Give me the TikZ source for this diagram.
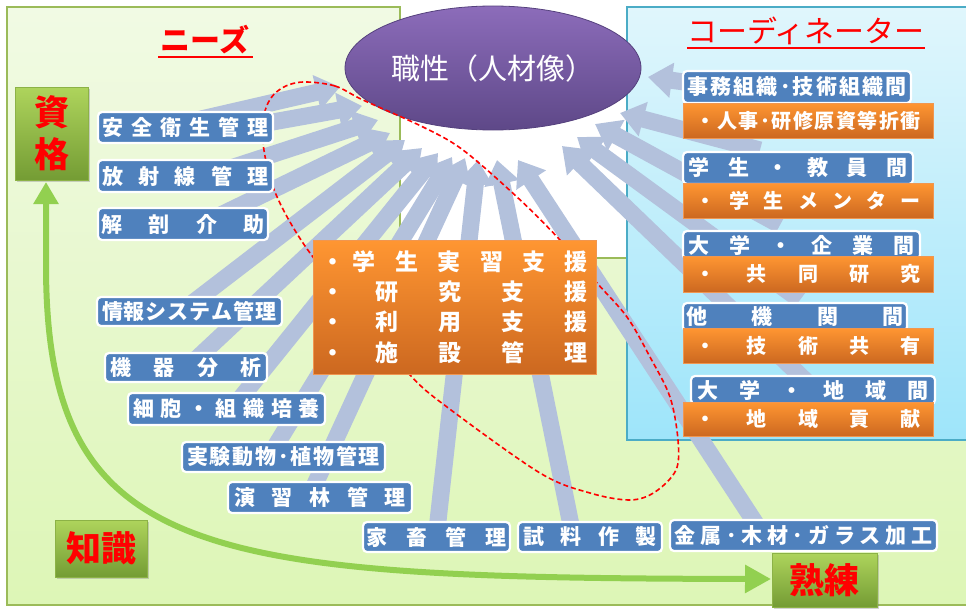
\documentclass[tikz,border=0pt]{standalone}
\usepackage{fontspec}
\setmainfont{Noto Sans CJK JP}
\usetikzlibrary{arrows.meta,shapes.geometric,shadows}
\definecolor{lblblue}{RGB}{79,129,189}
\definecolor{arrowblue}{RGB}{179,193,220}
\definecolor{orgtop}{RGB}{255,150,50}
\definecolor{orgbot}{RGB}{204,104,32}
\definecolor{orgline}{RGB}{240,150,80}
\definecolor{gtop}{RGB}{174,212,92}
\definecolor{gbot}{RGB}{116,156,52}
\definecolor{gline}{RGB}{140,178,70}
\definecolor{paneltop}{RGB}{241,250,228}
\definecolor{panelbot}{RGB}{221,246,182}
\definecolor{panelline}{RGB}{155,187,89}
\definecolor{bluetop}{RGB}{224,246,252}
\definecolor{bluebot}{RGB}{158,229,250}
\definecolor{blueline}{RGB}{75,172,198}
\definecolor{purtop}{RGB}{140,108,186}
\definecolor{purbot}{RGB}{94,72,136}
\definecolor{purline}{RGB}{85,65,125}
\definecolor{curvegreen}{RGB}{146,208,80}
\newcommand{\fs}[1]{\fontsize{#1}{#1}\selectfont}
\newcommand{\spr}[2]{\hbox to #1pt{\spaceskip=0pt plus 1fil\relax #2}}
\begin{document}
\begin{tikzpicture}[x=1pt,y=-1pt,
  lbl/.style={draw=white, line width=2.2pt, fill=lblblue, rounded corners=4pt, text=white, font=\bfseries\fs{21}, inner sep=0pt},
  org/.style={draw=orgline, line width=0.8pt, top color=orgtop, bottom color=orgbot, text=white, font=\bfseries\fs{20}, inner sep=0pt},
  gbox/.style={draw=gline, line width=0.8pt, top color=gtop, bottom color=gbot, text=red, font=\bfseries\fs{35}, inner sep=0pt, drop shadow={shadow xshift=2pt, shadow yshift=-2pt, opacity=0.35}},
  fatarrow/.style={draw=arrowblue, line width=17pt, -{Triangle[length=24pt,width=34pt]}},
  title/.style={text=red, inner sep=0pt},
  uline/.style={red, line width=2.5pt}
]
\useasboundingbox (0,0) rectangle (966,610);
% panels
\shade[top color=paneltop, bottom color=panelbot] (7,7) -- (400,7) -- (400,258) -- (975,258) -- (975,605) -- (7,605) -- cycle;
\draw[panelline, line width=2.5pt] (7,7) -- (400,7) -- (400,258) -- (975,258) -- (975,605) -- (7,605) -- cycle;
\shade[top color=bluetop, bottom color=bluebot] (627,7) rectangle (975,440);
\draw[blueline, line width=2.5pt] (975,7) -- (627,7) -- (627,440) -- (975,440);
% fat arrows
\foreach \sx/\sy/\ex/\ey [count=\i] in {
  175/125/340/87, 200/135/362/106, 200/178/378/120, 200/225/390/133,
  190/305/405/140, 190/365/422/148, 235/405/438/153, 270/455/452/157,
  310/495/465/158, 437/530/478/160, 572/530/497/160, 760/530/518/160,
  720/87/648/77, 760/150/620/113, 780/225/595/124, 800/300/577/137, 810/385/562/146}
{
  \coordinate (as\i) at (\sx,\sy);
  \coordinate (ae\i) at (\ex,\ey);
  \draw[fatarrow] (as\i) -- (ae\i);
}
% core ellipse
\node[ellipse, draw=purline, line width=0.8pt, top color=purtop, bottom color=purbot, minimum width=296pt, minimum height=124pt, inner sep=0pt, text=white, font=\fs{29}] (core) at (493,68) {職性（人材像）};
% dashed closed curve
\draw[red, line width=1.6pt, dash pattern=on 5pt off 3pt] plot[smooth cycle, tension=0.55] coordinates {
  (303,82) (335,86) (363,100) (423,127) (463,150) (517,197) (560,240) (597,283) (627,317) (650,357) (670,397) (678,440) (676,470) (655,492) (630,500) (590,493) (540,473) (447,407) (410,375) (355,310) (303,243) (273,187) (262,133) (268,103) (282,88)};
% titles
\node[title, font=\bfseries\fs{30}] (needs) at (205,40) {ニーズ};
\draw[uline] (158,57) -- (253,57);
\node[title, font=\fs{30}] (coord) at (806,31) {コーディネーター};
\draw[uline] (687,48) -- (925,48);
% left labels
\node[lbl, minimum width=175pt, minimum height=31pt] (n1) at (185.5,127.5) {\spr{166}{安 全 衛 生 管 理}};
\node[lbl, minimum width=175pt, minimum height=32pt] (n2) at (185.5,176) {\spr{166}{放 射 線 管 理}};
\node[lbl, minimum width=170pt, minimum height=32pt] (n3) at (183,224) {\spr{163}{解 剖 介 助}};
\node[lbl, minimum width=185pt, minimum height=29pt] (n4) at (189.5,311.5) {\spr{175}{情 報 シ ス テ ム 管 理}};
\node[lbl, minimum width=162pt, minimum height=29pt] (n5) at (186,367.5) {\spr{152}{機 器 分 析}};
\node[lbl, minimum width=197pt, minimum height=32pt] (n6) at (226.5,409) {\spr{187}{細 胞 ・ 組 織 培 養}};
\node[lbl, minimum width=203pt, minimum height=30pt] (n7) at (283.5,457) {\spr{193}{実 験 動 物 ･ 植 物 管 理}};
\node[lbl, minimum width=184pt, minimum height=31pt] (n8) at (320,497.5) {\spr{172}{演 習 林 管 理}};
\node[lbl, minimum width=147pt, minimum height=30pt] (n9) at (436.5,537) {\spr{140}{家 畜 管 理}};
\node[lbl, minimum width=144pt, minimum height=30pt] (n10) at (590,537) {\spr{134}{試 料 作 製}};
\node[lbl, minimum width=267pt, minimum height=31pt] (n11) at (803.5,535.5) {\spr{258}{金 属 ･ 木 材 ･ ガ ラ ス 加 工}};
% right labels
\node[lbl, minimum width=228pt, minimum height=32pt] (c1) at (797,87) {\spr{219}{事 務 組 織 ･ 技 術 組 織 間}};
\node[org, minimum width=250pt, minimum height=35pt] (d1) at (808,120.5) {\spr{225}{・ 人 事 ･ 研 修 原 資 等 折 衝}};
\node[lbl, minimum width=230pt, minimum height=32pt] (c2) at (798,168) {\spr{219}{学 生 ・ 教 員 間}};
\node[org, minimum width=250pt, minimum height=35pt] (d2) at (808,200.5) {\spr{225}{・ 学 生 メ ン タ ー}};
\node[lbl, minimum width=237pt, minimum height=28pt] (c3) at (801.5,245) {\spr{227}{大 学 ・ 企 業 間}};
\node[org, minimum width=250pt, minimum height=36pt] (d3) at (808,274) {\spr{225}{・ 共 同 研 究}};
\node[lbl, minimum width=224pt, minimum height=28pt] (c4) at (795,317) {\spr{217}{他 機 関 間}};
\node[org, minimum width=250pt, minimum height=35pt] (d4) at (808,345.5) {\spr{225}{・ 技 術 共 有}};
\node[lbl, minimum width=244pt, minimum height=28pt] (c5) at (813,390) {\spr{232}{大 学 ・ 地 域 間}};
\node[org, minimum width=250pt, minimum height=34pt] (d5) at (808,419) {\spr{225}{・ 地 域 貢 献}};
% center orange box
\node[org, minimum width=283pt, minimum height=134pt, font=\bfseries\fs{23}] (center) at (454.5,307) {%
  \parbox{267pt}{\baselineskip=30.3pt
  \hbox to 267pt{・\hfill\spr{235}{学 生 実 習 支 援}}
  \hbox to 267pt{・\hfill\spr{212}{研 究 支 援}}
  \hbox to 267pt{・\hfill\spr{212}{利 用 支 援}}
  \hbox to 267pt{・\hfill\spr{212}{施 設 管 理}}}};
% green boxes
\node[gbox, minimum width=73pt, minimum height=93pt, align=center, font=\bfseries\fontsize{35}{42}\selectfont] (shikaku) at (51.5,133.5) {資\\格};
\node[gbox, minimum width=92pt, minimum height=57pt] (chishiki) at (101,548.5) {知識};
\node[gbox, minimum width=105pt, minimum height=54pt] (jukuren) at (824.5,580) {熟練};
% green curved arrow
\coordinate (gs) at (46,182);
\coordinate (ge) at (771,579);
\draw[curvegreen, line width=6pt, {Triangle[length=22pt,width=24pt]}-{Triangle[length=26pt,width=27pt]}] (gs) -- (46,265) .. controls (46,560) and (200,578) .. (ge);
\end{tikzpicture}
\end{document}
